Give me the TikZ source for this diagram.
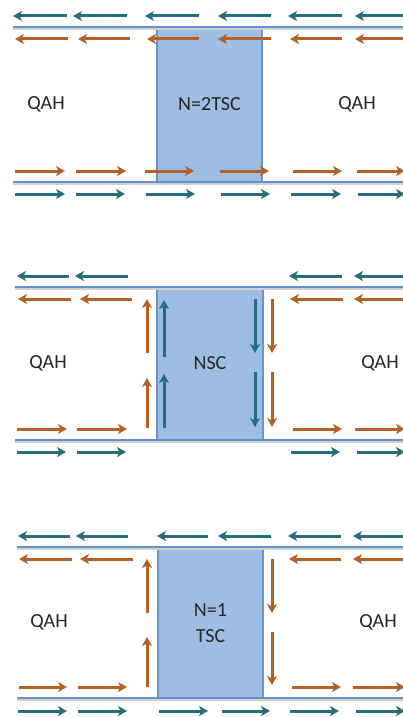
\documentclass[tikz,border=0pt]{standalone}
\usepackage{fontspec}
\setmainfont{Carlito}
\usetikzlibrary{arrows.meta, positioning}
\definecolor{cTeal}{RGB}{38,110,125}
\definecolor{cBrown}{RGB}{182,96,40}
\definecolor{cRail}{RGB}{100,145,205}
\definecolor{cBox}{RGB}{157,190,226}
\definecolor{cBoxEdge}{RGB}{105,148,200}
\tikzset{
	edgearr/.style  ={-{Stealth[length=9pt, width=10pt, inset=2.5pt]}, line width=3pt},
	rail/.style     ={draw=cRail, line width=2.6pt},
	railshadow/.style={draw=black!18, line width=2pt},
	scbox/.style    ={rectangle, draw=cBoxEdge, line width=1.4pt, fill=cBox, align=center, inner sep=0pt},
	lbl/.style      ={font=\fontsize{20}{26}\selectfont, text=black!85, align=center},
}
% row of horizontal edge arrows: colour, y, list of start/end x
\newcommand{\edgeRow}[3]{%
	\foreach \xa/\xb in {#3} \draw[edgearr, #1] (\xa,#2) -- (\xb,#2);}
% column of vertical edge arrows: colour, x, list of start/end y
\newcommand{\edgeCol}[3]{%
	\foreach \ya/\yb in {#3} \draw[edgearr, #1] (#2,\ya) -- (#2,\yb);}
% sample edge with its drop shadow
\newcommand{\railLine}[3]{%
	\draw[railshadow] (#1,{#3+1.6}) -- (#2,{#3+1.6});
	\draw[rail] (#1,#3) -- (#2,#3);}

\begin{document}
\begin{tikzpicture}[x=1pt, y=-1pt]
	\useasboundingbox (0,0) rectangle (403,717);
	% panel 1: N=2 TSC
	\node[scbox, lbl, minimum width=105pt, minimum height=155pt] (tscTwo) at (209.5,104.5) {N=2TSC};
	\node[lbl] (qahA) at (46,104) {QAH};
	\node[lbl] (qahB) at (357,104) {QAH};
	\edgeRow{cTeal}{16}{67/13, 127/73, 199/145, 271/218, 342/288, 405/355}
	\railLine{13}{403}{27}
	\edgeRow{cBrown}{39}{68/15, 130/78, 199/147, 271/218, 342/290, 405/355}
	\edgeRow{cBrown}{171}{15/65, 76/126, 145/194, 220/269, 293/342, 357/405}
	\railLine{13}{403}{182}
	\edgeRow{cTeal}{194}{15/65, 76/125, 146/195, 221/270, 291/341, 358/405}
	% panel 2: NSC
	\node[scbox, lbl, minimum width=106pt, minimum height=153pt] (nsc) at (210,363.5) {NSC};
	\node[lbl] (qahC) at (48,363) {QAH};
	\node[lbl] (qahD) at (380,363) {QAH};
	\edgeRow{cTeal}{276}{69/17, 128/75, 342/289, 405/354}
	\railLine{15}{403}{287}
	\edgeRow{cBrown}{299}{71/18, 132/80, 343/290, 405/354}
	\edgeCol{cBrown}{147}{353/299, 428/378}
	\edgeCol{cTeal}{164}{357/300, 428/374}
	\edgeCol{cTeal}{255}{299/353, 372/427}
	\edgeCol{cBrown}{272}{299/353, 372/427}
	\edgeRow{cBrown}{429}{17/67, 77/127, 293/342, 355/405}
	\railLine{15}{403}{440}
	\edgeRow{cTeal}{452}{17/66, 77/126, 291/340, 357/405}
	% panel 3: N=1 TSC
	\node[scbox, lbl, minimum width=105pt, minimum height=150pt] (tscOne) at (210.5,623) {N=1\\TSC};
	\node[lbl] (qahE) at (49,622) {QAH};
	\node[lbl] (qahF) at (378,622) {QAH};
	\edgeRow{cTeal}{536}{70/18, 128/76, 208/157, 271/218, 341/288, 405/353}
	\railLine{17}{403}{547}
	\edgeRow{cBrown}{559}{72/19, 133/80, 341/289, 405/353}
	\edgeCol{cBrown}{147}{613/559, 687/637}
	\edgeCol{cBrown}{272}{559/613, 632/685}
	\edgeRow{cBrown}{687}{19/67, 78/127, 292/341, 353/405}
	\railLine{17}{403}{698}
	\edgeRow{cTeal}{711}{18/67, 78/127, 159/208, 222/270, 290/339, 356/405}
\end{tikzpicture}
\end{document}
